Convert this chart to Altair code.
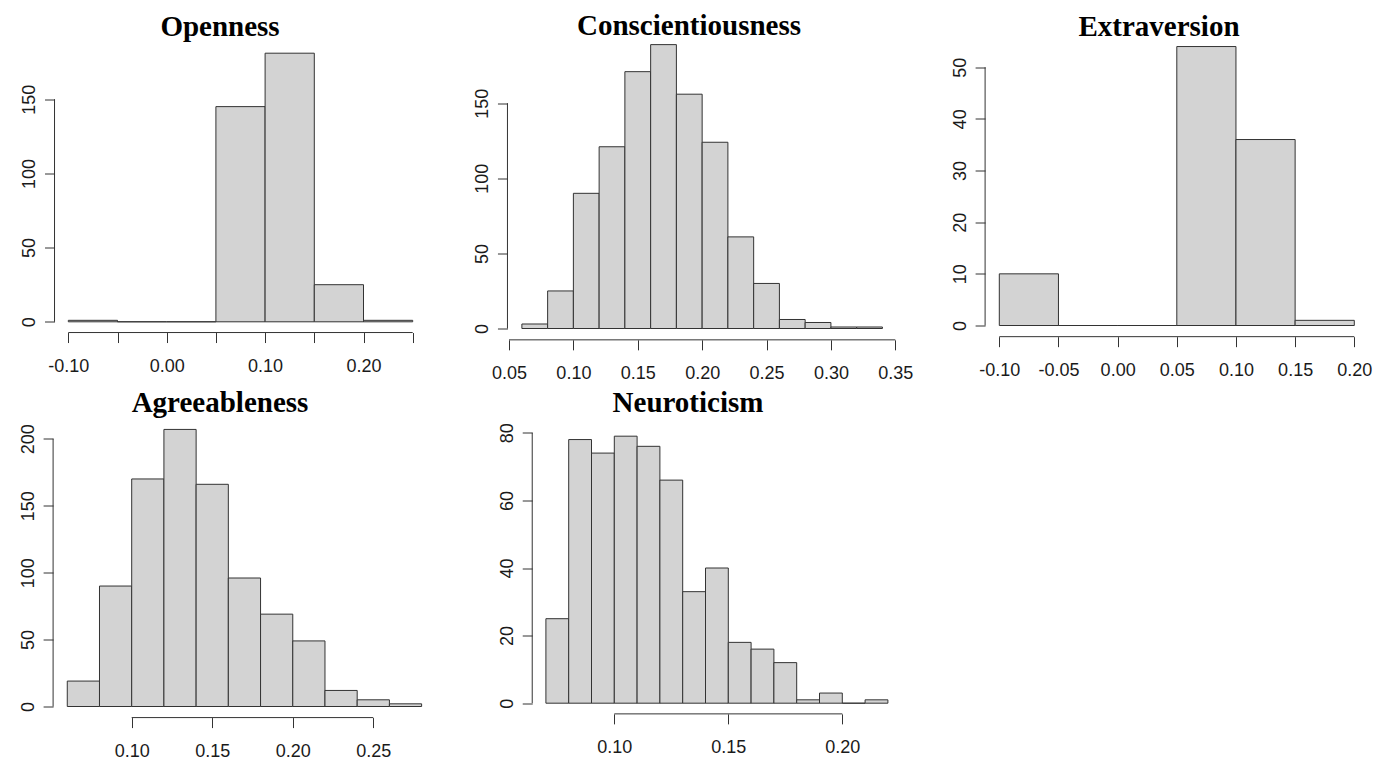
import altair as alt
import pandas as pd

# ------------------------------------------------------------------ data
titles = ["Openness", "Conscientiousness", "Extraversion", "Agreeableness", "Neuroticism"]

openness_breaks = [-0.10, -0.05, 0.00, 0.05, 0.10, 0.15, 0.20, 0.25]
openness_counts = [1, 0, 0, 145, 181, 25, 1]
openness_xticks = [-0.10, -0.05, 0.00, 0.05, 0.10, 0.15, 0.20, 0.25]
openness_xlabels = [-0.10, 0.00, 0.10, 0.20]
openness_yticks = [0, 50, 100, 150]

consc_breaks = [0.06, 0.08, 0.10, 0.12, 0.14, 0.16, 0.18, 0.20, 0.22, 0.24, 0.26, 0.28, 0.30, 0.32, 0.34]
consc_counts = [3, 25, 90, 121, 171, 189, 156, 124, 61, 30, 6, 4, 1, 1]
consc_xticks = [0.05, 0.10, 0.15, 0.20, 0.25, 0.30, 0.35]
consc_yticks = [0, 50, 100, 150]

extra_breaks = [-0.10, -0.05, 0.00, 0.05, 0.10, 0.15, 0.20]
extra_counts = [10, 0, 0, 54, 36, 1]
extra_xticks = [-0.10, -0.05, 0.00, 0.05, 0.10, 0.15, 0.20]
extra_yticks = [0, 10, 20, 30, 40, 50]

agree_breaks = [0.06, 0.08, 0.10, 0.12, 0.14, 0.16, 0.18, 0.20, 0.22, 0.24, 0.26, 0.28]
agree_counts = [19, 90, 170, 207, 166, 96, 69, 49, 12, 5, 2]
agree_xticks = [0.10, 0.15, 0.20, 0.25]
agree_yticks = [0, 50, 100, 150, 200]

neuro_breaks = [0.07, 0.08, 0.09, 0.10, 0.11, 0.12, 0.13, 0.14, 0.15, 0.16, 0.17, 0.18, 0.19, 0.20, 0.21, 0.22]
neuro_counts = [25, 78, 74, 79, 76, 66, 33, 40, 18, 16, 12, 1, 3, 0, 1]
neuro_xticks = [0.10, 0.15, 0.20]
neuro_yticks = [0, 20, 40, 60, 80]

# ------------------------------------------------------------------ style / layout
SANS = "Liberation Sans"
SERIF = "Liberation Serif"
INK = "#333333"
FILL = "#D3D3D3"
TICK_FS = 18
TITLE_FS = 29
TITLE_SHIFT = 30.5   # Vega places the title block above the group; compensate

# pixel anchors of two x ticks and two y ticks per panel (page coordinates)
anchors = {
    "Openness": ((-0.10, 68.3), (0.25, 412.7), (0, 321.3), (150, 98.7)),
    "Conscientiousness": ((0.05, 509.0), (0.35, 895.3), (0, 328.0), (150, 102.7)),
    "Extraversion": ((-0.10, 999.3), (0.20, 1354.3), (0, 325.0), (50, 66.7)),
    "Agreeableness": ((0.10, 131.7), (0.25, 373.3), (0, 706.0), (200, 438.3)),
    "Neuroticism": ((0.10, 614.3), (0.20, 842.3), (0, 702.7), (80, 432.3)),
}
# grid cells (left, right) / (top, bottom): 3 columns x 2 rows
COLS = [(53, 436), (507, 914), (985, 1369)]
ROWS = [(33, 340), (416, 718)]
cell = {
    "Openness": (0, 0), "Conscientiousness": (1, 0), "Extraversion": (2, 0),
    "Agreeableness": (0, 1), "Neuroticism": (1, 1),
}
# title centre x and baseline y
title_pos = {
    "Openness": (220, 34),
    "Conscientiousness": (689, 33),
    "Extraversion": (1159, 34),
    "Agreeableness": (220, 410),
    "Neuroticism": (688, 410),
}


def label_expr(values):
    arr = ",".join(repr(v) for v in values)
    return (f"indexof([{arr}], round(datum.value*100)/100) >= 0 ? "
            "(datum.value < 0 ? '-' : '') + format(abs(datum.value), '.2f') : ''")


def panel(title, breaks, counts, xticks, xlabels, yticks):
    (xa, pxa), (xb, pxb), (ya, pya), (yb, pyb) = anchors[title]
    kx = (pxb - pxa) / (xb - xa)
    ky = (pya - pyb) / (yb - ya)
    x0, x1 = breaks[0], breaks[-1]
    ux0, ux1 = x0 - 0.04 * (x1 - x0), x1 + 0.04 * (x1 - x0)
    ymax = max(counts)
    uy0, uy1 = -0.04 * ymax, 1.04 * ymax
    rl = pxa + (ux0 - xa) * kx
    rr = pxa + (ux1 - xa) * kx
    rb = pya - (uy0 - ya) * ky
    rt = pya - (uy1 - ya) * ky
    ci, ri = cell[title]
    vl, vr = COLS[ci]
    vt, vb = ROWS[ri]
    dom_x = [ux0 + (vl - rl) / kx, ux1 + (vr - rr) / kx]
    dom_y = [uy0 - (vb - rb) / ky, uy1 + (rt - vt) / ky]
    xs = alt.Scale(domain=dom_x, nice=False, zero=False)
    ys = alt.Scale(domain=dom_y, nice=False, zero=False)

    df = pd.DataFrame({"start": breaks[:-1], "end": breaks[1:], "count": counts,
                       "base": [0] * len(counts)})

    x_axis = alt.Axis(values=xticks, title=None, domain=False, grid=False,
                      tickSize=10, tickColor=INK, tickWidth=1,
                      labelFont=SANS, labelFontSize=TICK_FS, labelColor="#1a1a1a",
                      labelBaseline="alphabetic", labelPadding=29, labelAngle=0,
                      labelOverlap=False, labelFlush=False,
                      labelExpr=label_expr(xlabels), offset=rb - vb)
    y_axis = alt.Axis(values=yticks, title=None, domain=False, grid=False,
                      tickSize=10, tickColor=INK, tickWidth=1,
                      labelFont=SANS, labelFontSize=TICK_FS, labelColor="#1a1a1a",
                      labelAngle=-90, labelAlign="center", labelBaseline="alphabetic",
                      labelPadding=10, labelOverlap=False, labelFlush=False,
                      format="d", offset=vl - rl)

    bars = alt.Chart(df).mark_rect(fill=FILL, stroke=INK, strokeWidth=1).encode(
        x=alt.X("start:Q", scale=xs, axis=x_axis),
        x2="end:Q",
        y=alt.Y("count:Q", scale=ys, axis=y_axis),
        y2="base:Q",
    )
    xline = alt.Chart(pd.DataFrame({"a": [xticks[0]], "b": [xticks[-1]], "y": [uy0]})).mark_rule(
        color=INK, strokeWidth=1).encode(
        x=alt.X("a:Q", scale=xs, axis=x_axis), x2="b:Q",
        y=alt.Y("y:Q", scale=ys, axis=y_axis))
    yline = alt.Chart(pd.DataFrame({"x": [ux0], "a": [yticks[0]], "b": [yticks[-1]]})).mark_rule(
        color=INK, strokeWidth=1).encode(
        x=alt.X("x:Q", scale=xs, axis=x_axis),
        y=alt.Y("a:Q", scale=ys, axis=y_axis), y2="b:Q")

    tcx, tby = title_pos[title]
    ttl = alt.TitleParams(text=title, font=SERIF, fontSize=TITLE_FS, fontWeight="bold",
                          color="#000000", anchor="middle", frame="group",
                          baseline="alphabetic", offset=0,
                          dx=tcx - (vl + vr) / 2, dy=tby - vt + TITLE_SHIFT)
    return alt.layer(bars, xline, yline).properties(width=vr - vl, height=vb - vt, title=ttl)


p1 = panel(titles[0], openness_breaks, openness_counts, openness_xticks, openness_xlabels, openness_yticks)
p2 = panel(titles[1], consc_breaks, consc_counts, consc_xticks, consc_xticks, consc_yticks)
p3 = panel(titles[2], extra_breaks, extra_counts, extra_xticks, extra_xticks, extra_yticks)
p4 = panel(titles[3], agree_breaks, agree_counts, agree_xticks, agree_xticks, agree_yticks)
p5 = panel(titles[4], neuro_breaks, neuro_counts, neuro_xticks, neuro_xticks, neuro_yticks)

chart = alt.concat(
    p1, p2, p3, p4, p5, columns=3, align="each", bounds="flush",
    spacing={"row": ROWS[1][0] - ROWS[0][1], "column": COLS[1][0] - COLS[0][1]},
)
chart = chart.properties(padding={"left": 11, "top": 3.5, "right": 5, "bottom": 5}, background="white")
chart = chart.configure_view(stroke=None)

chart.save("out.html", embed_options={"renderer": "svg", "actions": False})
